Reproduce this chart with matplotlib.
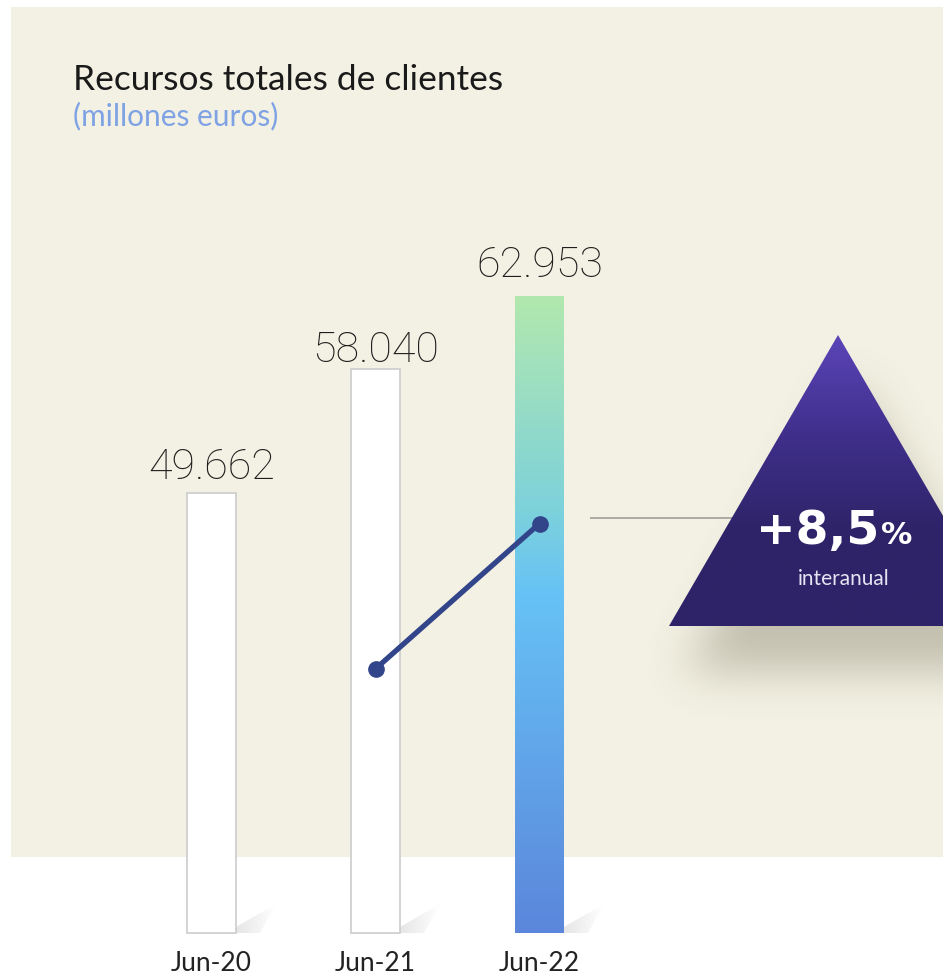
import numpy as np
import matplotlib
matplotlib.use('Agg')
import matplotlib.pyplot as plt
from matplotlib.colors import LinearSegmentedColormap
from matplotlib.patches import Polygon, Rectangle
from matplotlib.path import Path
import matplotlib.transforms as mtransforms

# ---------------- data ----------------
categories = ['Jun-20', 'Jun-21', 'Jun-22']
values = [49662, 58040, 62953]
value_labels = ['49.662', '58.040', '62.953']
trend_x = [1, 2]
trend_values = [37800, 47600]
growth_label = '+8,5'
growth_pct = '%'
growth_sub = 'interanual'
title = 'Recursos totales de clientes'
subtitle = '(millones euros)'

FONT = 'Lato'
W, H = 943, 978
fig = plt.figure(figsize=(W / 100, H / 100), dpi=100, facecolor='white')

# pixel overlay axes for decoration
ov = fig.add_axes([0, 0, 1, 1])
ov.set_xlim(0, W)
ov.set_ylim(H, 0)
ov.axis('off')
ov.add_patch(Rectangle((11, 8), W - 11, 850, facecolor='#F3F1E3',
                       edgecolor='none', zorder=0))

# triangle shadow
tri = np.array([[838, 336], [669, 627], [1007, 627]], dtype=float)
gw = 1150
yy, xx = np.mgrid[0:H, 0:gw]
pts = np.column_stack([xx.ravel() + 0.5, yy.ravel() + 0.5])
shadow_tri = tri + np.array([15, 45])
mask = Path(shadow_tri).contains_points(pts).reshape(H, gw).astype(float)
sig = 22
k = np.arange(-3 * sig, 3 * sig + 1)
kern = np.exp(-k ** 2 / (2 * sig ** 2))
kern /= kern.sum()
mask = np.apply_along_axis(lambda r: np.convolve(r, kern, mode='same'), 1, mask)
mask = np.apply_along_axis(lambda c: np.convolve(c, kern, mode='same'), 0, mask)
mask = mask[:, :W]
sh = np.zeros((H, W, 4))
sh[..., 0] = 0.42
sh[..., 1] = 0.40
sh[..., 2] = 0.32
sh[..., 3] = mask * 0.36
ov.imshow(sh, extent=(0, W, H, 0), zorder=1, interpolation='bilinear')

# connector line
ov.plot([590, 760], [519, 519], color='#A5A59E', lw=1.3, zorder=2,
        solid_capstyle='butt')

# triangle with gradient
tri_patch = Polygon(tri, closed=True, facecolor='none', edgecolor='none',
                    transform=ov.transData)
ov.add_patch(tri_patch)
tri_cmap = LinearSegmentedColormap.from_list(
    'tri', [(0, '#5B45B8'), (0.35, '#3F2F8A'), (0.68, '#2E2368'), (1, '#2E2368')])
grad = np.linspace(0, 1, 256).reshape(-1, 1)
im = ov.imshow(grad, cmap=tri_cmap, extent=(669, 1007, 627, 336),
               aspect='auto', zorder=3, interpolation='bilinear')
im.set_clip_path(tri_patch)

ov.text(756, 544, growth_label, color='white', fontsize=34, fontweight='bold',
        family='DejaVu Sans', ha='left', va='baseline', zorder=5)
ov.text(881, 544, growth_pct, color='white', fontsize=22.5, fontweight='bold',
        family='DejaVu Sans', ha='left', va='baseline', zorder=5)
ov.text(844, 585, growth_sub, color='#E6E4F2', fontsize=15,
        family=FONT, ha='center', va='baseline', zorder=5)

# titles
ov.text(73, 90, title, color='#1A1A1A', fontsize=25.4, family=FONT,
        ha='left', va='baseline')
ov.text(73, 125, subtitle, color='#7EA2E3', fontsize=21.5, family=FONT,
        ha='left', va='baseline')

# ---------------- data axes ----------------
ax = fig.add_axes([0, 0, 1, 1])
ax.patch.set_alpha(0)
ax.axis('off')
slope = 0.014822
base_px = 934
y0 = 19976
ax.set_ylim(y0 - (H - base_px) / slope, y0 + base_px / slope)
xc0, spacing = 211.5, 164
ax.set_xlim(-xc0 / spacing, (W - xc0) / spacing)
bw = 49 / spacing
xs = np.arange(len(values))
heights = np.array(values) - y0

# bar floor shadows (soft gradient wedge)
hgrad = np.linspace(1, 0, 64).reshape(1, -1)
shade = np.zeros((1, 64, 4))
shade[..., :3] = 0.82
shade[..., 3] = hgrad * 0.55
for x in xs:
    xr = x + bw / 2
    dx = 40 / spacing
    poly = Polygon([(xr, y0), (xr, y0 + 6 / slope), (xr + dx, y0 + 29 / slope),
                    (xr + dx * 0.6, y0)], closed=True,
                   facecolor='none', edgecolor='none', transform=ax.transData)
    ax.add_patch(poly)
    si = ax.imshow(shade, extent=(xr, xr + dx, y0, y0 + 29 / slope),
                   aspect='auto', zorder=1, interpolation='bilinear')
    si.set_clip_path(poly)

bars = ax.bar(xs[:2], heights[:2], bottom=y0, width=bw, color='white',
              edgecolor='#CCCCCC', linewidth=1.2, zorder=2)

# gradient bar
gbar = ax.bar([xs[2]], [heights[2]], bottom=y0, width=bw, color='none',
              edgecolor='none', zorder=2)[0]
bar_cmap = LinearSegmentedColormap.from_list(
    'bar', [(0, '#B2E8AE'), (0.33, '#7ED2DA'), (0.47, '#66C2F6'),
            (1, '#5B86DB')])
gim = ax.imshow(grad, cmap=bar_cmap,
                extent=(xs[2] - bw / 2, xs[2] + bw / 2, y0, values[2]),
                aspect='auto', zorder=2, interpolation='bilinear')
gim.set_clip_path(gbar)

# value labels
label_gap_pt = [10.8, 5.8, 14.4]
for x, v, lab, g in zip(xs, values, value_labels, label_gap_pt):
    ax.annotate(lab, (x, v), xytext=(0, g), textcoords='offset points',
                ha='center', va='baseline', fontsize=31, fontweight='light',
                family='Roboto', color='#1E1E1E', zorder=6)

# trend line
ax.plot(trend_x, trend_values, color='#33458A', lw=3.8, marker='o',
        markersize=11, zorder=4, solid_capstyle='round')

# x labels
blend = mtransforms.blended_transform_factory(ax.transData, ov.transData)
for x, c in zip(xs, categories):
    ax.text(x, 971, c, transform=blend, ha='center', va='baseline',
            fontsize=19, family=FONT, color='#222222')

fig.savefig('out.png', dpi=100, facecolor='white')
